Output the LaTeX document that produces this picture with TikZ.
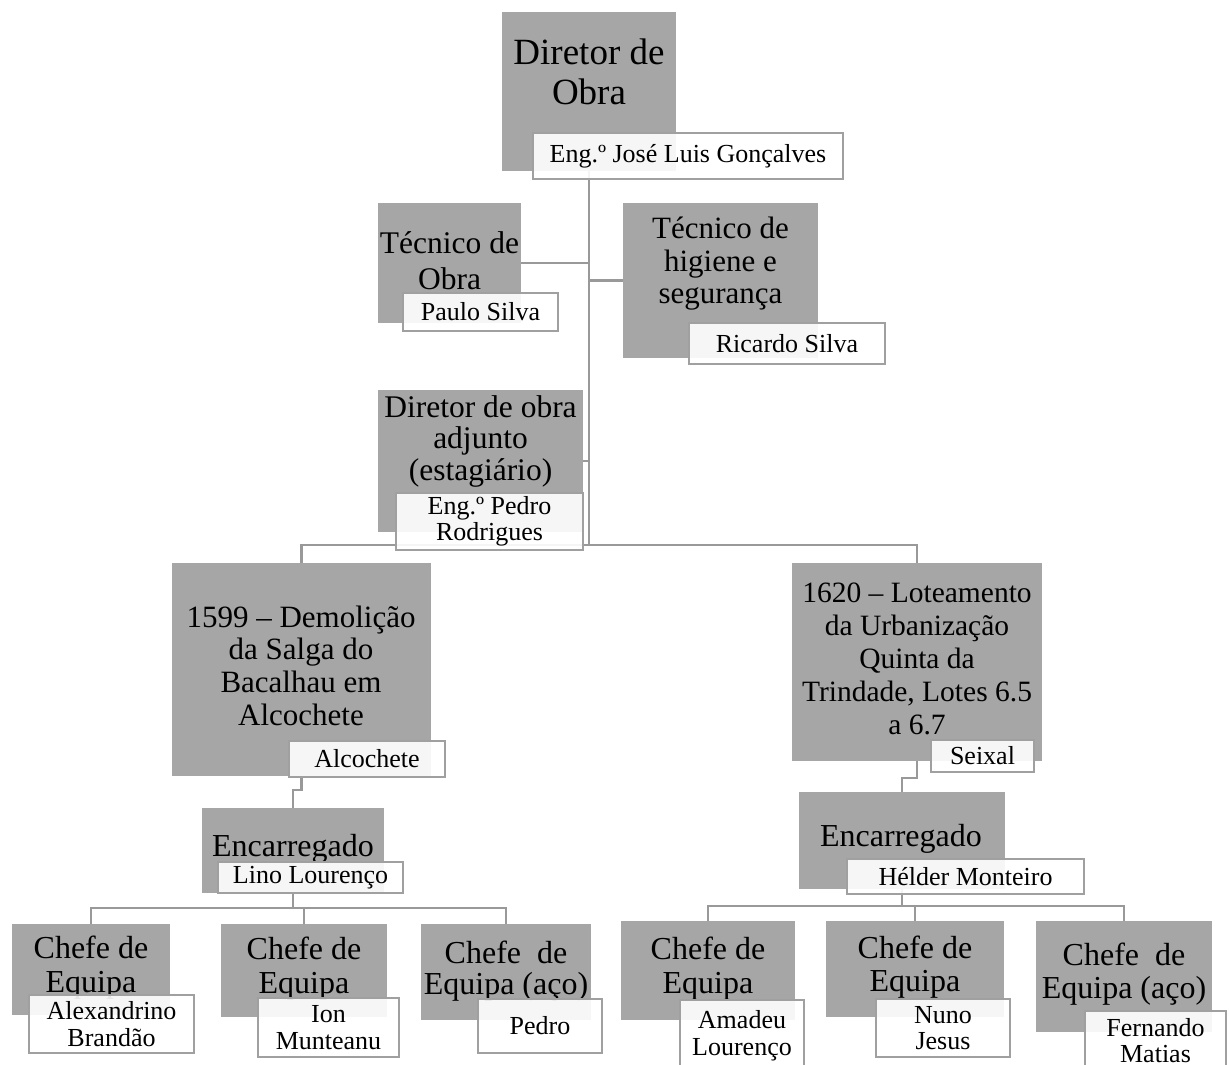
\documentclass[tikz,border=0pt]{standalone}
\usepackage{fontspec}
\setmainfont{Liberation Serif}
\usetikzlibrary{backgrounds}
\definecolor{gboxc}{RGB}{166,166,166}
\definecolor{glinec}{RGB}{160,160,160}
\definecolor{connc}{RGB}{153,153,153}
\newcommand\mlines[1]{\vtop{\lineskiplimit=-\maxdimen\halign{\hfil##\hfil\cr#1\crcr}}}
\begin{document}
\begin{tikzpicture}[x=1pt,y=-1pt,
  grayrect/.style={fill=gboxc, draw=none, inner sep=0pt, outer sep=0pt},
  lab/.style={fill=white, fill opacity=0.9, text opacity=1, draw=glinec, draw opacity=1,
              line width=1.8pt, inner sep=0pt, outer sep=0pt, align=center,
              font=\fontsize{26}{26.5}\selectfont},
  txt/.style={anchor=base, inner sep=0pt, outer sep=0pt},
  conn/.style={draw=connc, line width=2.6pt}]
\useasboundingbox (0,0) rectangle (1229,1065);

% gray boxes
\node[grayrect, minimum width=174pt, minimum height=158.5pt] (dir) at (589,91.75) {};
\node[grayrect, minimum width=143pt, minimum height=120pt] (tobra) at (449.5,263) {};
\node[grayrect, minimum width=195pt, minimum height=155pt] (thig) at (720.5,280.5) {};
\node[grayrect, minimum width=205pt, minimum height=142pt] (adj) at (480.5,461) {};
\node[grayrect, minimum width=258.5pt, minimum height=213pt] (p1599) at (301.25,669.5) {};
\node[grayrect, minimum width=250pt, minimum height=198pt] (p1620) at (917,662) {};
\node[grayrect, minimum width=182.4pt, minimum height=85pt] (enc1) at (292.8,850.5) {};
\node[grayrect, minimum width=206pt, minimum height=97pt] (enc2) at (902,840.5) {};
\node[grayrect, minimum width=158pt, minimum height=91pt] (c1) at (91,969.5) {};
\node[grayrect, minimum width=166.4pt, minimum height=93pt] (c2) at (303.8,970.5) {};
\node[grayrect, minimum width=170pt, minimum height=96pt] (c3) at (506,972) {};
\node[grayrect, minimum width=174pt, minimum height=99pt] (c4) at (708,970.5) {};
\node[grayrect, minimum width=178pt, minimum height=96pt] (c5) at (915,969) {};
\node[grayrect, minimum width=176pt, minimum height=111pt] (c6) at (1124,976.5) {};

% texts of gray boxes
\node[txt, font=\fontsize{37}{40}\selectfont] (tdir) at (589,64) {\mlines{Diretor de\cr Obra}};
\node[txt, font=\fontsize{31.5}{36}\selectfont] (ttobra) at (449.5,253) {\mlines{Técnico de\cr Obra}};
\node[txt, font=\fontsize{31}{32.5}\selectfont] (tthig) at (720.5,238.5) {\mlines{Técnico de\cr higiene e\cr segurança}};
\node[txt, font=\fontsize{31.5}{31.5}\selectfont] (tadj) at (480.5,417) {\mlines{Diretor de obra\cr adjunto\cr (estagiário)}};
\node[txt, font=\fontsize{31}{32.7}\selectfont] (tp1599) at (301,627) {\mlines{1599 – Demolição\cr da Salga do\cr Bacalhau em\cr Alcochete}};
\node[txt, font=\fontsize{29.5}{33}\selectfont] (tp1620) at (917,602) {\mlines{1620 – Loteamento\cr da Urbanização\cr Quinta da\cr Trindade, Lotes 6.5\cr a 6.7}};
\node[txt, font=\fontsize{32}{34}\selectfont] (tenc1) at (293,856) {Encarregado};
\node[txt, font=\fontsize{32}{34}\selectfont] (tenc2) at (901,846) {Encarregado};
\node[txt, font=\fontsize{32}{34}\selectfont] (tc1) at (91,958) {\mlines{Chefe de\cr Equipa}};
\node[txt, font=\fontsize{32}{34}\selectfont] (tc2) at (304,959) {\mlines{Chefe de\cr Equipa}};
\node[txt, font=\fontsize{32}{31.5}\selectfont] (tc3) at (506,963) {\mlines{Chefe\ \ de\cr Equipa (aço)}};
\node[txt, font=\fontsize{32}{34}\selectfont] (tc4) at (708,959) {\mlines{Chefe de\cr Equipa}};
\node[txt, font=\fontsize{32}{33}\selectfont] (tc5) at (915,958) {\mlines{Chefe de\cr Equipa}};
\node[txt, font=\fontsize{32}{33}\selectfont] (tc6) at (1124,965) {\mlines{Chefe\ \ de\cr Equipa (aço)}};

% white label boxes
\node[lab, minimum width=310pt, minimum height=46pt] (ldir) at (688,156) {Eng.º José Luis Gonçalves};
\node[lab, minimum width=155pt, minimum height=38pt] (ltobra) at (480.5,312) {Paulo Silva};
\node[lab, minimum width=196pt, minimum height=41pt] (lthig) at (787,343.5) {Ricardo Silva};
\node[lab, minimum width=187pt, minimum height=57pt] (ladj) at (489.5,521.5) {\mlines{Eng.º Pedro\cr Rodrigues}};
\node[lab, minimum width=156pt, minimum height=36pt] (lp1599) at (367,759) {Alcochete};
\node[lab, minimum width=103pt, minimum height=32pt] (lp1620) at (982.5,756) {Seixal};
\node[lab, minimum width=185pt, minimum height=31pt] (lenc1) at (310.5,877.5) {Lino Lourenço};
\node[lab, minimum width=237pt, minimum height=35pt] (lenc2) at (965.5,876.5) {Hélder Monteiro};
\node[lab, minimum width=165pt, minimum height=58pt] (lc1) at (111.5,1024) {\mlines{Alexandrino\cr Brandão}};
\node[lab, minimum width=141pt, minimum height=59pt] (lc2) at (328.5,1027.5) {\mlines{Ion\cr Munteanu}};
\node[lab, minimum width=124pt, minimum height=54pt] (lc3) at (540,1026) {Pedro};
\node[lab, minimum width=124pt, minimum height=71pt] (lc4) at (742,1035.5) {\mlines{Amadeu\cr Lourenço}};
\node[lab, minimum width=134pt, minimum height=58pt] (lc5) at (943,1028) {\mlines{Nuno\cr Jesus}};
\node[lab, minimum width=141pt, minimum height=59pt] (lc6) at (1155.5,1040.5) {\mlines{Fernando\cr Matias}};

% connectors (behind)
\begin{scope}[on background layer]
\fill[white] (0,0) rectangle (1229,1065);
\coordinate (bus) at (589,545);
\draw[conn] (dir.south) -- (bus);
\draw[conn] (tobra.east) -- (tobra.east -| dir.south);
\draw[conn] (thig.west) -- (thig.west -| dir.south);
\draw[conn] (adj.east) -- (adj.east -| dir.south);
\draw[conn] (bus) -| (p1599.north);
\draw[conn] (bus) -| (p1620.north);
\draw[conn] (p1599.south) -- ++(0,14) -| (enc1.north);
\draw[conn] (p1620.south) -- ++(0,17) -| (enc2.north);
\draw[conn] (enc1.south) -- ++(0,15) coordinate (j1);
\draw[conn] (j1) -| (c1.north);
\draw[conn] (j1) -| (c2.north);
\draw[conn] (j1) -| (c3.north);
\draw[conn] (enc2.south) -- ++(0,17) coordinate (j2);
\draw[conn] (j2) -| (c4.north);
\draw[conn] (j2) -| (c5.north);
\draw[conn] (j2) -| (c6.north);
\end{scope}
\end{tikzpicture}
\end{document}
